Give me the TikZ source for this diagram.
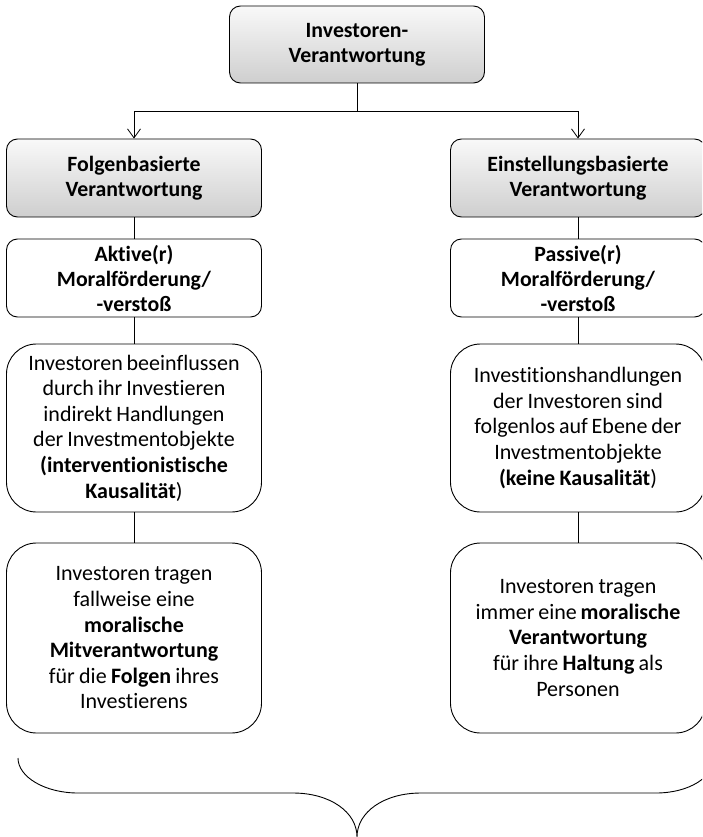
\documentclass[tikz,border=0pt]{standalone}
\usepackage{fontspec}
\setmainfont{Carlito}[Ligatures=NoCommon]
\usetikzlibrary{arrows.meta}

% narrow interword spaces, set inside each node after the alignment setup
\newcommand{\narrowspaces}{\spaceskip=0.15em plus 0.05em\relax\xspaceskip=0.2em\relax}

\tikzset{
  box/.style={draw=black, line width=0.9pt, align=center, inner sep=2pt,
    minimum width=255pt, text width=250pt,
    font=\fontsize{22}{25.6}\selectfont,
    execute at begin node=\narrowspaces},
  headbox/.style={box, rounded corners=11pt, top color=gray!5, bottom color=gray!38,
    font=\fontsize{21.8}{24.8}\selectfont\bfseries},
  labelbox/.style={box, rounded corners=11pt, fill=white,
    font=\fontsize{21.8}{25}\selectfont\bfseries},
  textbox/.style={box, rounded corners=30pt, fill=white},
  link/.style={line width=0.9pt},
  arrowlink/.style={link, -{Straight Barb[length=9pt,width=13pt,line width=0.8pt]}}
}

\begin{document}
\begin{tikzpicture}[x=1pt,y=-1pt]
  \useasboundingbox (0,0) rectangle (702,837);
  \clip (0,0) rectangle (702,837);

  % top level
  \node[headbox, minimum height=77pt] (top) at (357,44.5) {Investoren-\\Verantwortung};

  % left column
  \node[headbox, minimum height=78pt] (L1) at (134,178) {Folgenbasierte\\Verantwortung};
  \node[labelbox, minimum height=78pt] (L2) at (134,278) {Aktive(r)\\Moralförderung/\\-verstoß};
  \node[textbox, minimum height=168pt] (L3) at (134,428)
    {Investoren beeinflussen\\durch ihr Investieren\\indirekt Handlungen\\der Investmentobjekte\\
     \textbf{(interventionistische}\\\textbf{Kausalität})};
  \node[textbox, minimum height=190pt] (L4) at (134,638)
    {Investoren tragen\\fallweise eine\\\textbf{moralische}\\\textbf{Mitverantwortung}\\
     für die \textbf{Folgen} ihres\\Investierens};

  % right column
  \node[headbox, minimum height=78pt] (R1) at (578,178) {Einstellungsbasierte\\Verantwortung};
  \node[labelbox, minimum height=78pt] (R2) at (578,278) {Passive(r)\\Moralförderung/\\-verstoß};
  \node[textbox, minimum height=168pt] (R3) at (578,428)
    {Investitionshandlungen\\der Investoren sind\\folgenlos auf Ebene der\\Investmentobjekte\\
     \textbf{(keine Kausalität})};
  \node[textbox, minimum height=190pt] (R4) at (578,638)
    {Investoren tragen\\immer eine \textbf{moralische}\\\textbf{Verantwortung}\\
     für ihre \textbf{Haltung} als\\Personen};

  % branching connector
  \coordinate (split) at (357,111);
  \draw[link] (top.south) -- (split);
  \draw[arrowlink] (split) -| (L1.north);
  \draw[arrowlink] (split) -| (R1.north);

  % column connectors
  \draw[link] (L1) -- (L2);
  \draw[link] (L2) -- (L3);
  \draw[link] (L3) -- (L4);
  \draw[link] (R1) -- (R2);
  \draw[link] (R2) -- (R3);
  \draw[link] (R3) -- (R4);

  % curly brace below both columns
  \coordinate (braceL) at (18,758);
  \coordinate (braceTip) at (357,837);
  \coordinate (braceR) at (714,758);
  \draw[link] (braceL) .. controls (18,777) and (45,793) .. (78,793)
    -- (293,793) .. controls (330,793) and (357,812) .. (braceTip)
    .. controls (357,812) and (384,793) .. (421,793)
    -- (656,793) .. controls (689,793) and (714,777) .. (braceR);
\end{tikzpicture}
\end{document}
